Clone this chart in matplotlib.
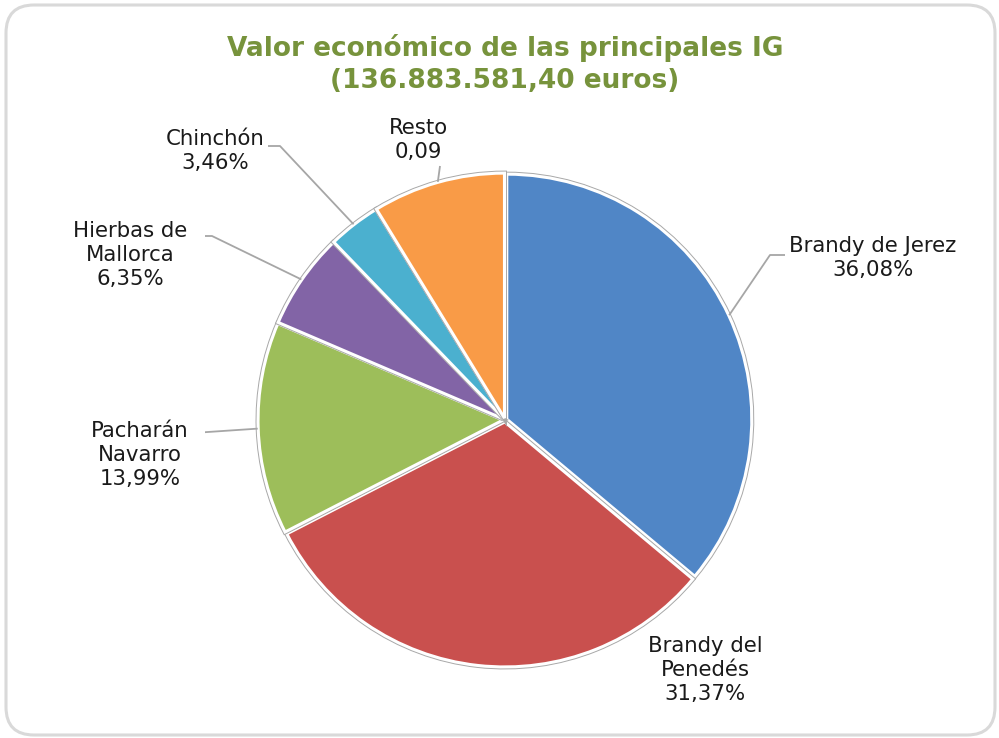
import numpy as np
import matplotlib
matplotlib.use('Agg')
import matplotlib.pyplot as plt
from matplotlib.patches import FancyBboxPatch
import matplotlib.transforms as mtransforms
import matplotlib.patheffects as pe

categorias = ['Brandy de Jerez', 'Brandy del\nPenedés', 'Pacharán\nNavarro',
              'Hierbas de\nMallorca', 'Chinchón', 'Resto']
porcentajes = [36.08, 31.37, 13.99, 6.35, 3.46, 8.75]
etiquetas_valor = ['36,08%', '31,37%', '13,99%', '6,35%', '3,46%', '0,09']
colores = ['#5086C6', '#C9504E', '#9DBE5A', '#8264A6', '#4BB0CF', '#F99B47']

W, H = 999, 738
CX, CY, R = 505, 420, 245   # centro y radio de la tarta en pixeles

fig = plt.figure(figsize=(W / 100, H / 100), dpi=100)
fig.patch.set_facecolor('white')

# marco redondeado
marco = FancyBboxPatch((6, 3), 989, 730, boxstyle='round,pad=0,rounding_size=28',
                       transform=mtransforms.IdentityTransform(),
                       facecolor='none', edgecolor='#D9D9D9', linewidth=2.2, zorder=-5)
fig.patches.append(marco)

half = 300
ax = fig.add_axes([(CX - half) / W, (H - CY - half) / H, 2 * half / W, 2 * half / H])
ax.set_facecolor('none')

wedges, _ = ax.pie(porcentajes, colors=colores, startangle=90, counterclock=False,
                   radius=1.0, explode=[0.008] * 6,
                   wedgeprops=dict(edgecolor='white', linewidth=2.2))
for w in wedges:
    w.set_path_effects([pe.Stroke(linewidth=3.6, foreground='#A8A8A8'), pe.Normal()])
lim = half / R
ax.set_xlim(-lim, lim)
ax.set_ylim(-lim, lim)
ax.set_aspect('equal')
ax.axis('off')


def px(x, y):
    return (x - CX) / R, (CY - y) / R


# posiciones de etiquetas (pixeles) y codos de las lineas guia
texto_pos = [(873, 258), (705, 670), (140, 455), (130, 255), (215, 151), (418, 140)]
codos = [[(770, 255), (785, 255)], None, [(193, 433)], [(212, 236), (195, 236)],
         [(280, 146), (268, 146)], [(440, 166)]]

for i, w in enumerate(wedges):
    ang = np.deg2rad((w.theta1 + w.theta2) / 2)
    tx, ty = px(*texto_pos[i])
    ax.text(tx, ty, categorias[i] + '\n' + etiquetas_valor[i], ha='center', va='center',
            fontsize=15.3, color='#1a1a1a', linespacing=1.25)
    if codos[i] is not None:
        xs = [np.cos(ang) * 1.01]
        ys = [np.sin(ang) * 1.01]
        for c in codos[i]:
            cx, cy = px(*c)
            xs.append(cx)
            ys.append(cy)
        ax.plot(xs, ys, color='#A6A6A6', linewidth=1.3, solid_capstyle='butt')

fig.text(CX / W, 1 - 64 / H, 'Valor económico de las principales IG\n(136.883.581,40 euros)',
         ha='center', va='center', fontsize=19, fontweight='bold', color='#77933C',
         linespacing=1.3)

fig.savefig('out.png', dpi=100)
